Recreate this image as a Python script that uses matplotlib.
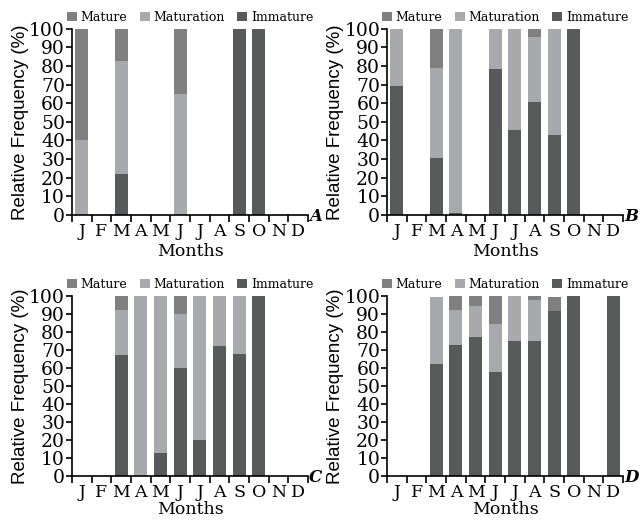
import matplotlib
matplotlib.use("Agg")
from matplotlib import pyplot as plt
import numpy as np

months = ["J", "F", "M", "A", "M", "J", "J", "A", "S", "O", "N", "D"]

# 各面板数据 (Immature, Maturation, Mature), 无样本的月份为 0
imm_a = [0, 0, 22, 0, 0, 0, 0, 0, 100, 100, 0, 0]
mat_a = [40, 0, 60.5, 0, 0, 65, 0, 0, 0, 0, 0, 0]
mtr_a = [60, 0, 17.5, 0, 0, 35, 0, 0, 0, 0, 0, 0]

imm_b = [69.5, 0, 30.5, 1, 0, 78.5, 45.5, 60.5, 43, 100, 0, 0]
mat_b = [30.5, 0, 48.5, 99, 0, 21.5, 54.5, 35, 57, 0, 0, 0]
mtr_b = [0, 0, 21, 0, 0, 0, 0, 4.5, 0, 0, 0, 0]

imm_c = [0, 0, 67, 0, 12.5, 60, 20, 72, 67.5, 100, 0, 0]
mat_c = [0, 0, 25, 100, 87.5, 30, 80, 28, 32.5, 0, 0, 0]
mtr_c = [0, 0, 8, 0, 0, 10, 0, 0, 0, 0, 0, 0]

imm_d = [0, 0, 62, 73, 77, 57.5, 75, 75, 91.5, 100, 0, 100]
mat_d = [0, 0, 37.5, 19.5, 17.5, 27, 25, 23, 0, 0, 0, 0]
mtr_d = [0, 0, 0, 7.5, 5.5, 15.5, 0, 2, 8, 0, 0, 0]

c_mature = "#808083"
c_maturation = "#a8a9ac"
c_immature = "#58595b"

panels = [("A", imm_a, mat_a, mtr_a), ("B", imm_b, mat_b, mtr_b),
          ("C", imm_c, mat_c, mtr_c), ("D", imm_d, mat_d, mtr_d)]

# 轴的位置 (left, bottom, width, height)
boxes = [(0.112, 0.590, 0.367, 0.355), (0.602, 0.590, 0.367, 0.355),
         (0.112, 0.092, 0.367, 0.343), (0.602, 0.092, 0.367, 0.343)]

fig = plt.figure(figsize=(6.43, 5.24), dpi=100)
x = np.arange(12)

for i, ((letter, imm, mat, mtr), box) in enumerate(zip(panels, boxes)):
    ax = fig.add_axes(box)
    imm = np.array(imm)
    mat = np.array(mat)
    mtr = np.array(mtr)
    ax.bar(x, mtr, 0.66, bottom=imm + mat, color=c_mature, label="Mature")
    ax.bar(x, mat, 0.66, bottom=imm, color=c_maturation, label="Maturation")
    ax.bar(x, imm, 0.66, color=c_immature, label="Immature")

    ax.set_xlim(-0.5, 11.5)
    ax.set_ylim(0, 100)
    ax.spines["top"].set_visible(False)
    ax.spines["right"].set_visible(False)
    ax.spines["left"].set_linewidth(1.2)
    ax.spines["bottom"].set_linewidth(1.2)

    ax.set_xticks(x)
    ax.set_xticklabels(months, family="DejaVu Serif", fontsize=12.5)
    ax.tick_params(axis="x", which="major", length=0, pad=6)
    ax.set_xticks(np.arange(-0.5, 12, 1), minor=True)
    ax.tick_params(axis="x", which="minor", length=5, width=1.2, direction="out")

    ax.set_yticks(range(0, 101, 10))
    ax.set_yticklabels([str(v) for v in range(0, 101, 10)], family="DejaVu Serif", fontsize=13.5)
    ax.tick_params(axis="y", length=4, width=1.2, pad=1)

    ax.set_xlabel("Months", family="DejaVu Serif", fontsize=12.5, labelpad=2 if i < 2 else 0)
    ax.set_ylabel("Relative Frequency (%)", family="Liberation Sans", fontsize=13.5, labelpad=0)

    ax.text(1.005, -0.01, letter, transform=ax.transAxes, ha="left", va="center",
            family="DejaVu Serif", fontsize=12, fontweight="bold", fontstyle="italic")

    ax.legend(loc="lower center", bbox_to_anchor=(0.5, 1.0), ncol=3, frameon=False,
              prop={"family": "DejaVu Serif", "size": 9}, handlelength=0.8,
              handleheight=0.8, handletextpad=0.3, columnspacing=1.0, borderaxespad=0)

fig.savefig("out.png", dpi=100)
